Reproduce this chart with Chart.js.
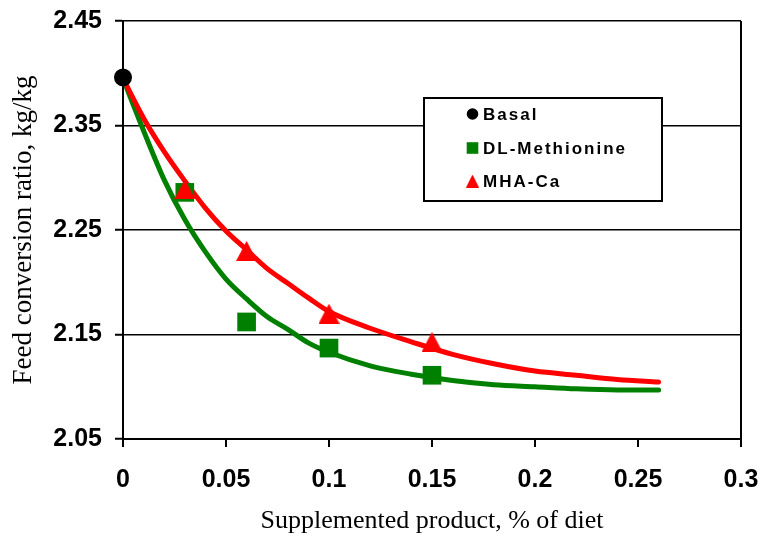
<!DOCTYPE html>
<html>
<head>
<meta charset="utf-8">
<script src="https://cdn.jsdelivr.net/npm/chart.js@4.4.1/dist/chart.umd.min.js"></script>
<style>
html,body{margin:0;padding:0;background:#fff;}
canvas{display:block;}
</style>
</head>
<body>
<canvas id="c" width="760" height="538"></canvas>
<script>
// ---- data ----
const seriesLabels = ['Basal', 'DL-Methionine', 'MHA-Ca'];
const basalX = [0];
const basalY = [2.396];
const pointX = [0.03, 0.06, 0.10, 0.15];
const metPoints = [2.286, 2.162, 2.137, 2.111];
const mhaPoints = [2.289, 2.230, 2.170, 2.143];
const curveX = [0, 0.01, 0.02, 0.03, 0.04, 0.05, 0.06, 0.07, 0.08, 0.09, 0.10, 0.12, 0.14, 0.16, 0.18, 0.20, 0.22, 0.24, 0.26];
const metCurve = [2.395, 2.345, 2.298, 2.260, 2.229, 2.203, 2.184, 2.167, 2.155, 2.142, 2.133, 2.120, 2.112, 2.106, 2.102, 2.100, 2.098, 2.097, 2.097];
const mhaCurve = [2.395, 2.357, 2.325, 2.297, 2.271, 2.249, 2.231, 2.213, 2.199, 2.185, 2.172, 2.156, 2.143, 2.131, 2.122, 2.115, 2.111, 2.107, 2.1045];
const xTicks = [0, 0.05, 0.10, 0.15, 0.20, 0.25, 0.30];
const xTickLabels = ['0', '0.05', '0.1', '0.15', '0.2', '0.25', '0.3'];
const yTicks = [2.05, 2.15, 2.25, 2.35, 2.45];
const yTickLabels = ['2.05', '2.15', '2.25', '2.35', '2.45'];
const xTitle = 'Supplemented product, % of diet';
const yTitle = 'Feed conversion ratio, kg/kg';

const GREEN = '#008000';
const RED = '#ff0000';

function triCanvas(w, h) {
  const cv = document.createElement('canvas');
  cv.width = w; cv.height = h;
  const g = cv.getContext('2d');
  g.fillStyle = RED;
  g.beginPath();
  g.moveTo(w / 2, 0);
  g.lineTo(w, h);
  g.lineTo(0, h);
  g.closePath();
  g.fill();
  return cv;
}
const triBig = triCanvas(21, 20);
const triSmall = triCanvas(13, 13);

const zip = (xs, ys) => xs.map((x, i) => ({x: x, y: ys[i]}));

const legendPlugin = {
  id: 'boxLegend',
  afterDraw(chart) {
    const ctx = chart.ctx;
    const L = 424, T = 98, R = 662, B = 201;
    ctx.save();
    ctx.fillStyle = '#fff';
    ctx.fillRect(L, T, R - L, B - T);
    ctx.lineWidth = 2;
    ctx.strokeStyle = '#000';
    ctx.strokeRect(L, T, R - L, B - T);
    const rows = [114, 148, 181];
    const mx = 472.5;
    ctx.fillStyle = '#000';
    ctx.beginPath(); ctx.arc(mx, rows[0], 5.8, 0, Math.PI * 2); ctx.fill();
    ctx.fillStyle = GREEN;
    ctx.fillRect(mx - 5.8, rows[1] - 5.8, 11.6, 11.6);
    ctx.drawImage(triSmall, mx - 6.5, rows[2] - 6.5);
    ctx.fillStyle = '#000';
    ctx.font = 'bold 17px "Liberation Sans", Arial, sans-serif';
    try { ctx.letterSpacing = '2px'; } catch (e) {}
    ctx.textBaseline = 'middle';
    ctx.textAlign = 'left';
    seriesLabels.forEach((t, i) => ctx.fillText(t, 483, rows[i] + 1));
    ctx.restore();
  }
};

new Chart(document.getElementById('c'), {
  type: 'scatter',
  data: {
    datasets: [
      {label: seriesLabels[0], data: zip(basalX, basalY), pointStyle: 'circle', pointRadius: 9, pointHoverRadius: 9,
       backgroundColor: '#000', borderColor: '#000', borderWidth: 0, clip: false},
      {label: seriesLabels[2], data: zip(pointX, mhaPoints), pointStyle: triBig, pointRadius: 10,
       backgroundColor: RED, borderColor: RED, clip: false},
      {label: seriesLabels[1], data: zip(pointX, metPoints), pointStyle: 'rect', pointRadius: 13.2,
       backgroundColor: GREEN, borderColor: GREEN, borderWidth: 0, clip: false},
      {label: seriesLabels[2] + ' curve', data: zip(curveX, mhaCurve), showLine: true, pointRadius: 0,
       borderColor: RED, borderWidth: 5, cubicInterpolationMode: 'monotone', borderCapStyle: 'round', borderJoinStyle: 'round'},
      {label: seriesLabels[1] + ' curve', data: zip(curveX, metCurve), showLine: true, pointRadius: 0,
       borderColor: GREEN, borderWidth: 5, cubicInterpolationMode: 'monotone', borderCapStyle: 'round', borderJoinStyle: 'round'}
    ]
  },
  options: {
    responsive: false,
    animation: false,
    events: [],
    layout: {padding: {left: 0, right: 19, top: 21, bottom: 0}},
    plugins: {legend: {display: false}, tooltip: {enabled: false}},
    scales: {
      x: {
        type: 'linear', min: 0, max: 0.3,
        afterBuildTicks: s => { s.ticks = xTicks.map(v => ({value: v})); },
        afterFit: s => { s.height = 99; s.paddingLeft = 0; s.paddingRight = 0; },
        ticks: {
          callback: (v, i) => xTickLabels[i],
          color: '#000', padding: 18, maxRotation: 0, autoSkip: false,
          font: {family: '"Liberation Sans", Arial, sans-serif', size: 25, weight: 'bold'}
        },
        grid: {
          drawOnChartArea: true, drawTicks: true, tickLength: 8, lineWidth: 2,
          color: c => (c.index === xTicks.length - 1 ? '#000' : 'rgba(0,0,0,0)'),
          tickColor: '#000', tickWidth: 2
        },
        border: {display: true, color: '#000', width: 2},
        title: {display: true, text: xTitle, color: '#000', padding: {top: 0, bottom: 1},
          font: {family: '"Liberation Serif", "Times New Roman", serif', size: 26, weight: 'normal'}}
      },
      y: {
        type: 'linear', min: 2.05, max: 2.45,
        afterBuildTicks: s => { s.ticks = yTicks.map(v => ({value: v})); },
        afterFit: s => { s.width = 123; s.paddingTop = 0; s.paddingBottom = 0; },
        ticks: {
          callback: (v, i) => yTickLabels[i],
          color: '#000', padding: 13,
          font: {family: '"Liberation Sans", Arial, sans-serif', size: 25, weight: 'bold'}
        },
        grid: {color: '#000', lineWidth: 1.5, drawTicks: true, tickLength: 8, tickColor: '#000', tickWidth: 2},
        border: {display: true, color: '#000', width: 2},
        title: {display: true, text: yTitle, color: '#000', padding: {top: 8, bottom: 0},
          font: {family: '"Liberation Serif", "Times New Roman", serif', size: 27, weight: 'normal'}}
      }
    }
  },
  plugins: [legendPlugin]
});
</script>
</body>
</html>
